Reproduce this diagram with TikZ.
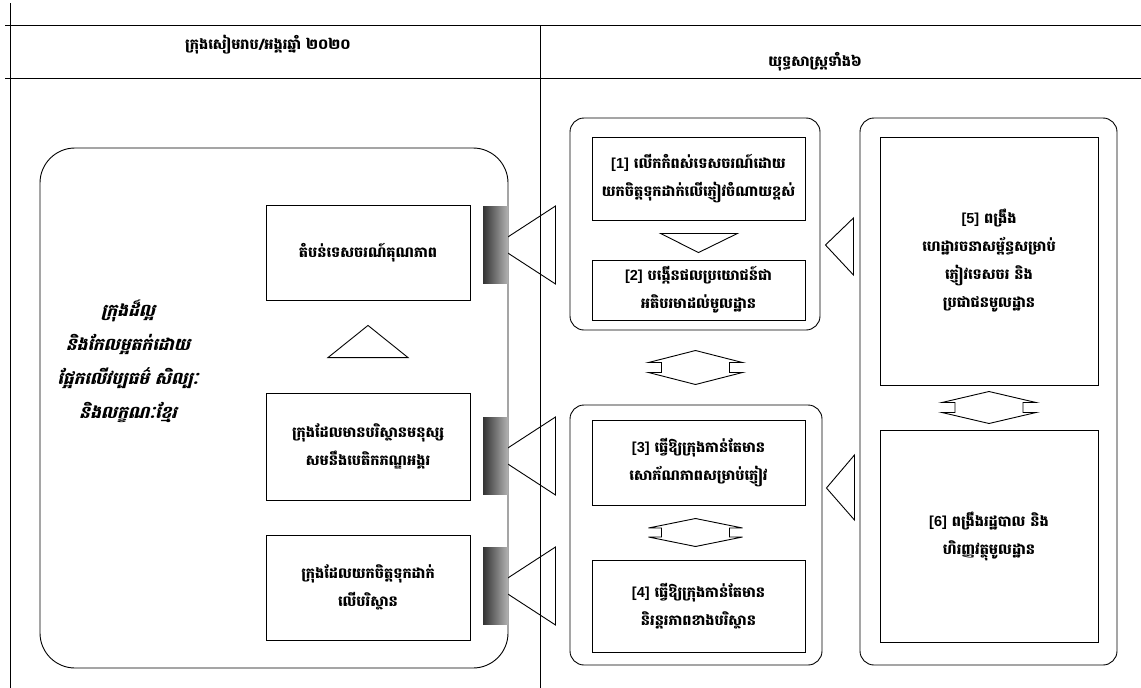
\documentclass[tikz,border=0pt]{standalone}
\usepackage{fontspec}
\usetikzlibrary{calc}
\newfontfamily\kh[Script=Khmer]{Battambang}
\newfontfamily\khit[Script=Khmer,FakeSlant=0.25]{Battambang}
\newfontfamily\lat{Liberation Sans}
\newcommand\num[1]{{\lat\bfseries [#1]}\ }
\begin{document}
\begin{tikzpicture}[x=1pt,y=-1pt,line width=0.9pt,line join=miter,
  box/.style={draw,fill=white,align=center,inner sep=2pt,font=\kh\bfseries\fontsize{14.5}{28}\selectfont},
  cont/.style={draw,rounded corners=14pt,inner sep=0pt},
  greyrect/.style={left color=black!80,right color=black!30,draw=none,inner sep=0pt,minimum width=25pt,minimum height=77pt},
  head/.style={font=\kh\bfseries\fontsize{14.5}{28}\selectfont},
  pics/dbl/.style n args={3}{code={\draw[fill=white] (0,-#2) -- (#1,-#3) -- (#1-13,-#3) -- (#1-13,#3) -- (#1,#3) -- (0,#2) -- (-#1,#3) -- (-#1+13,#3) -- (-#1+13,-#3) -- (-#1,-#3) -- cycle;}}]
\useasboundingbox (0,0) rectangle (1141,688);
% table frame
\draw (10,3) -- (10,688);
\draw (5,25) -- (1141,25);
\draw (5,78) -- (1141,78);
\draw (540,25) -- (540,688);
\node[head] (h1) at (268,45) {ក្រុងសៀមរាប/អង្គរឆ្នាំ ២០២០};
\node[head] (h2) at (815,62) {យុទ្ធសាស្ត្រទាំង៦};
% left container
\node[cont,rounded corners=35pt,minimum width=468pt,minimum height=520pt] (cL) at (274,408) {};
\node[align=center,font=\khit\bfseries\fontsize{17}{34}\selectfont] (lt) at (128,361)
  {ក្រុងដ៏ល្អ\\និងកែលម្អតក់ដោយ\\ផ្អែកលើវប្បធម៌ សិល្បៈ\\និងលក្ខណៈខ្មែរ};
\node[box,minimum width=204pt,minimum height=95pt] (L1) at (368,252.5) {តំបន់ទេសចរណ៍គុណភាព};
\node[box,minimum width=204pt,minimum height=107pt] (L2) at (368,446.5) {ក្រុងដែលមានបរិស្ថានមនុស្ស\\សមនឹងបេតិកភណ្ឌអង្គរ};
\node[box,minimum width=204pt,minimum height=105pt] (L3) at (368,587.5) {ក្រុងដែលយកចិត្តទុកដាក់\\លើបរិស្ថាន};
\draw ($(L2.north)+(-40,-35)$) -- ($(L2.north)+(40,-35)$) -- ($(L1.south)+(0,25)$) -- cycle;
% connectors from right side to left boxes
\node[greyrect] (G1) at (495.5,245) {};
\node[greyrect] (G2) at (495.5,456) {};
\node[greyrect] (G3) at (495.5,586) {};
\foreach \g in {G1,G2,G3}{
  \draw (\g.center) -- ++(60,-39) -- ++(0,78) -- cycle;
  \fill[left color=black!80,right color=black!30] ($(\g.center)+(-12.5,-38.5)$) rectangle ($(\g.center)+(12.5,38.5)$);
}
% container A
\node[cont,minimum width=250pt,minimum height=212pt] (cA) at (695,224) {};
\node[box,minimum width=213pt,minimum height=83pt] (b1) at (698.5,178.5) {\num{1}លើកកំពស់ទេសចរណ៍ដោយ\\យកចិត្តទុកដាក់លើភ្ញៀវចំណាយខ្ពស់};
\node[box,minimum width=213pt,minimum height=60pt] (b2) at (698.5,290) {\num{2}បង្កើនផលប្រយោជន៍ជា\\អតិបរមាដល់មូលដ្ឋាន};
\draw ($(b1.south)+(-38,13)$) -- ($(b1.south)+(39,13)$) -- ($(b2.north)+(0,-7)$) -- cycle;
% container B
\node[cont,minimum width=252pt,minimum height=260pt] (cB) at (696,535) {};
\node[box,minimum width=213pt,minimum height=85pt] (b3) at (698.5,462.5) {\num{3}ធ្វើឱ្យក្រុងកាន់តែមាន\\សោភ័ណភាពសម្រាប់ភ្ញៀវ};
\node[box,minimum width=213pt,minimum height=92pt] (b4) at (698.5,606) {\num{4}ធ្វើឱ្យក្រុងកាន់តែមាន\\និរន្តរភាពខាងបរិស្ថាន};
\pic at ($(b3.south)!0.5!(b4.north)+(-3,0)$) {dbl={47}{14}{4.5}};
\pic at ($(cA.south)!0.5!(cB.north)$) {dbl={47}{17}{5}};
% container C
\node[cont,minimum width=257pt,minimum height=547pt] (cC) at (988.5,391.5) {};
\node[box,minimum width=218pt,minimum height=248pt] (b5) at (989,261) {\num{5}ពង្រឹង\\ហេដ្ឋារចនាសម្ព័ន្ធសម្រាប់\\ភ្ញៀវទេសចរ និង\\ប្រជាជនមូលដ្ឋាន};
\node[box,minimum width=218pt,minimum height=212pt] (b6) at (989,536) {\num{6}ពង្រឹងរដ្ឋបាល និង\\ហិរញ្ញវត្ថុមូលដ្ឋាន};
\pic at ($(b5.south)!0.5!(b6.north)$) {dbl={47}{16}{5}};
% triangles from C to A and B
\draw ($(cA.east)+(5,21)$) -- ($(cA.east)+(33,-6)$) -- ($(cA.east)+(33,51)$) -- cycle;
\draw ($(cB.east)+(4,-47)$) -- ($(cB.east)+(32,-80)$) -- ($(cB.east)+(32,-15)$) -- cycle;
\end{tikzpicture}
\end{document}
